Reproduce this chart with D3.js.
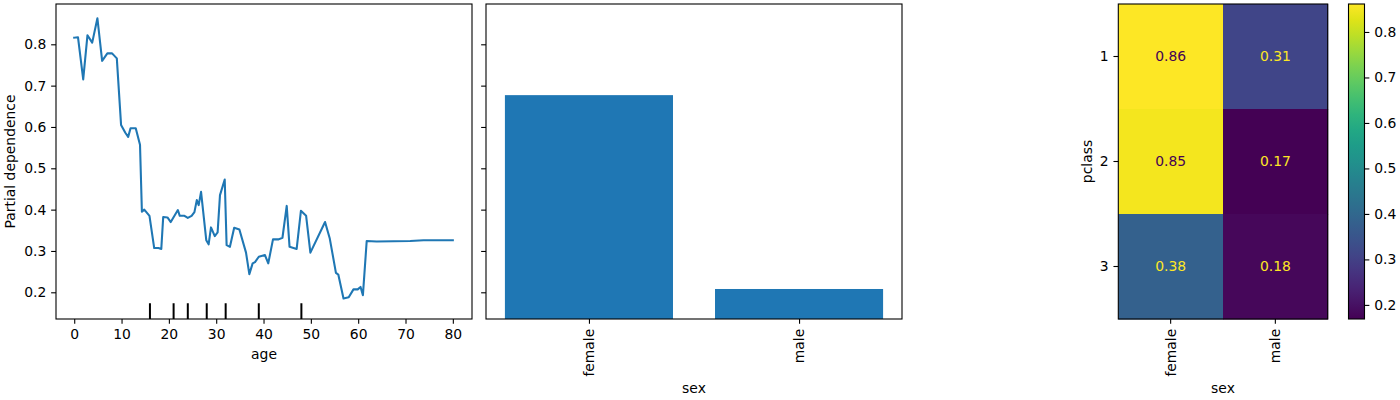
<!DOCTYPE html>
<html>
<head>
<meta charset="utf-8">
<script src="https://cdn.jsdelivr.net/npm/d3@7"></script>
<style>
  html, body { margin: 0; padding: 0; background: #fff; }
  svg { display: block; font-family: "DejaVu Sans", sans-serif; }
  text { fill: #000; }
</style>
</head>
<body>
<svg id="chart" width="1400" height="400"></svg>
<script>
// ---------- data ----------
const ages = [0, 0.8, 1.9, 2.8, 3.8, 4.9, 5.9, 7, 8, 9, 9.9, 10.8, 11.4, 11.9, 13, 13.9, 14.3, 14.8, 15.9, 16.9,
  17.8, 18.4, 18.8, 19.7, 20.4, 21.9, 22.3, 23.3, 24, 24.8, 25.4, 25.9, 26.3, 26.8, 27.9, 28.4, 28.9, 29.7, 30.3, 30.8,
  31.8, 32.2, 32.9, 33.8, 34.9, 36.3, 37, 37.7, 38.2, 39, 40.3, 41, 42, 43.2, 44, 44.9, 45.5, 47, 47.9, 49,
  49.9, 53, 54, 55.3, 55.8, 56.9, 58, 59, 59.9, 60.5, 61, 61.8, 63.9, 71, 73.8, 80];
const agePD = [0.816, 0.817, 0.715, 0.822, 0.804, 0.863, 0.760, 0.778, 0.778, 0.766, 0.605, 0.586, 0.576, 0.597, 0.597, 0.557, 0.395, 0.400, 0.385, 0.307,
  0.307, 0.305, 0.382, 0.381, 0.370, 0.399, 0.385, 0.385, 0.380, 0.385, 0.394, 0.423, 0.411, 0.443, 0.326, 0.316, 0.357, 0.336, 0.345, 0.435,
  0.473, 0.314, 0.310, 0.356, 0.352, 0.296, 0.244, 0.270, 0.273, 0.286, 0.290, 0.270, 0.328, 0.328, 0.332, 0.409, 0.310, 0.305, 0.397, 0.385,
  0.296, 0.370, 0.330, 0.247, 0.243, 0.185, 0.188, 0.207, 0.207, 0.213, 0.193, 0.324, 0.323, 0.324, 0.326, 0.326];
const ageDeciles = [16, 21, 24, 28, 32, 39, 48];
const ageTicks = [0, 10, 20, 30, 40, 50, 60, 70, 80];
const pdTicks = [0.2, 0.3, 0.4, 0.5, 0.6, 0.7, 0.8];

const sexCats = ["female", "male"];
const sexPD = [0.677, 0.208];

const pclassCats = ["1", "2", "3"];
const heatValues = [[0.86, 0.31], [0.85, 0.17], [0.38, 0.18]]; // rows: pclass, cols: sex
const cbarTicks = [0.2, 0.3, 0.4, 0.5, 0.6, 0.7, 0.8];

// ---------- setup ----------
const svg = d3.select("#chart");
svg.append("rect").attr("width", 1400).attr("height", 400).attr("fill", "#fff");
const FS = 13.9, TICK = 4.86, PAD = 4.86;
const blue = "#1f77b4";

const yTop = 4, yBot = 319;
const y = d3.scaleLinear().domain([0.1354, 0.8975]).range([yBot, yTop]);

function styleAxis(g) {
  g.select(".domain").remove();
  g.selectAll(".tick line").attr("stroke", "#000").attr("stroke-width", 1.1);
  g.selectAll(".tick text").attr("font-size", FS).attr("fill", "#000").attr("font-family", "DejaVu Sans");
}
function frame(xa, xb) {
  svg.append("rect").attr("x", xa).attr("y", yTop).attr("width", xb - xa).attr("height", yBot - yTop)
    .attr("fill", "none").attr("stroke", "#000").attr("stroke-width", 1.1);
}

// ---------- panel 1: age ----------
const x1 = d3.scaleLinear().domain([-3.85, 84.05]).range([56, 472]);
const g1 = svg.append("g");
g1.append("path")
  .datum(ages.map((a, i) => [a, agePD[i]]))
  .attr("fill", "none").attr("stroke", blue).attr("stroke-width", 2.08)
  .attr("stroke-linejoin", "round").attr("stroke-linecap", "square")
  .attr("d", d3.line().x(d => x1(d[0])).y(d => y(d[1])));
g1.selectAll("line.dec").data(ageDeciles).join("line").attr("class", "dec")
  .attr("x1", d => x1(d)).attr("x2", d => x1(d))
  .attr("y1", yBot).attr("y2", yBot - (yBot - yTop) * 0.05)
  .attr("stroke", "#000").attr("stroke-width", 2);
svg.append("g").attr("transform", `translate(0,${yBot})`)
  .call(d3.axisBottom(x1).tickValues(ageTicks).tickSize(TICK).tickPadding(PAD).tickFormat(d3.format("d")))
  .call(styleAxis);
svg.append("g").attr("transform", `translate(56,0)`)
  .call(d3.axisLeft(y).tickValues(pdTicks).tickSize(TICK).tickPadding(PAD).tickFormat(d3.format(".1f")))
  .call(styleAxis);
frame(56, 472);
svg.append("text").attr("x", 264).attr("y", 359).attr("text-anchor", "middle").attr("font-size", FS).text("age");
svg.append("text").attr("transform", "translate(15,161.5) rotate(-90)").attr("text-anchor", "middle")
  .attr("font-size", FS).text("Partial dependence");

// ---------- panel 2: sex ----------
const x2 = d3.scaleLinear().domain([-0.49, 1.49]).range([486, 902]);
svg.append("g").selectAll("rect").data(sexCats).join("rect")
  .attr("x", (d, i) => x2(i - 0.4)).attr("width", (d, i) => x2(i + 0.4) - x2(i - 0.4))
  .attr("y", (d, i) => y(sexPD[i])).attr("height", (d, i) => yBot - y(sexPD[i]))
  .attr("fill", blue);
svg.append("g").attr("transform", `translate(486,0)`)
  .call(d3.axisLeft(y).tickValues(pdTicks).tickSize(TICK).tickFormat(""))
  .call(styleAxis);
const ax2 = svg.append("g").attr("transform", `translate(0,${yBot})`)
  .call(d3.axisBottom(x2).tickValues([0, 1]).tickSize(TICK).tickFormat(i => sexCats[i]))
  .call(styleAxis);
ax2.selectAll(".tick text").attr("transform", `translate(0,${TICK + PAD}) rotate(-90)`)
  .attr("text-anchor", "end").attr("x", 0).attr("y", 0).attr("dy", "0.35em");
frame(486, 902);
svg.append("text").attr("x", 694).attr("y", 393).attr("text-anchor", "middle").attr("font-size", FS).text("sex");

// ---------- panel 3: heatmap ----------
const hx = d3.scaleBand().domain(sexCats).range([1118.3, 1327.7]);
const hy = d3.scaleBand().domain(pclassCats).range([yTop, yBot]);
const vmin = 0.169, vmax = 0.8615;
const color = d3.scaleSequential(d3.interpolateViridis).domain([vmin, vmax]);
const cells = [];
heatValues.forEach((row, r) => row.forEach((v, c) => cells.push({ r: pclassCats[r], c: sexCats[c], v })));
const g3 = svg.append("g");
g3.selectAll("rect").data(cells).join("rect")
  .attr("x", d => hx(d.c)).attr("y", d => hy(d.r))
  .attr("width", hx.bandwidth() + 0.5).attr("height", hy.bandwidth() + 0.5)
  .attr("fill", d => color(d.v));
const thresh = (vmin + vmax) / 2;
g3.selectAll("text").data(cells).join("text")
  .attr("x", d => hx(d.c) + hx.bandwidth() / 2).attr("y", d => hy(d.r) + hy.bandwidth() / 2)
  .attr("dy", "0.35em").attr("text-anchor", "middle").attr("font-size", FS)
  .style("fill", d => d.v > thresh ? d3.interpolateViridis(0) : d3.interpolateViridis(1))
  .text(d => d3.format(".2f")(d.v));
svg.append("g").attr("transform", `translate(1118.3,0)`)
  .call(d3.axisLeft(hy).tickSize(TICK).tickPadding(PAD))
  .call(styleAxis);
const ax3 = svg.append("g").attr("transform", `translate(0,${yBot})`)
  .call(d3.axisBottom(hx).tickSize(TICK))
  .call(styleAxis);
ax3.selectAll(".tick text").attr("transform", `translate(0,${TICK + PAD}) rotate(-90)`)
  .attr("text-anchor", "end").attr("x", 0).attr("y", 0).attr("dy", "0.35em");
svg.append("rect").attr("x", 1118.3).attr("y", yTop).attr("width", 1327.7 - 1118.3).attr("height", yBot - yTop)
  .attr("fill", "none").attr("stroke", "#000").attr("stroke-width", 1.1);
svg.append("text").attr("x", 1223).attr("y", 393).attr("text-anchor", "middle").attr("font-size", FS).text("sex");
svg.append("text").attr("transform", "translate(1092,161.5) rotate(-90)").attr("text-anchor", "middle")
  .attr("font-size", FS).text("pclass");

// ---------- colorbar ----------
const cbX0 = 1348.5, cbX1 = 1364.5;
const cy = d3.scaleLinear().domain([vmin, vmax]).range([yBot, yTop]);
const defs = svg.append("defs");
const grad = defs.append("linearGradient").attr("id", "vir").attr("x1", 0).attr("y1", 1).attr("x2", 0).attr("y2", 0);
d3.range(0, 1.0001, 0.05).forEach(t => grad.append("stop").attr("offset", t).attr("stop-color", d3.interpolateViridis(t)));
svg.append("rect").attr("x", cbX0).attr("y", yTop).attr("width", cbX1 - cbX0).attr("height", yBot - yTop)
  .attr("fill", "url(#vir)").attr("stroke", "#000").attr("stroke-width", 1.1);
svg.append("g").attr("transform", `translate(${cbX1},0)`)
  .call(d3.axisRight(cy).tickValues(cbarTicks).tickSize(TICK).tickPadding(PAD).tickFormat(d3.format(".1f")))
  .call(styleAxis);
</script>
</body>
</html>
